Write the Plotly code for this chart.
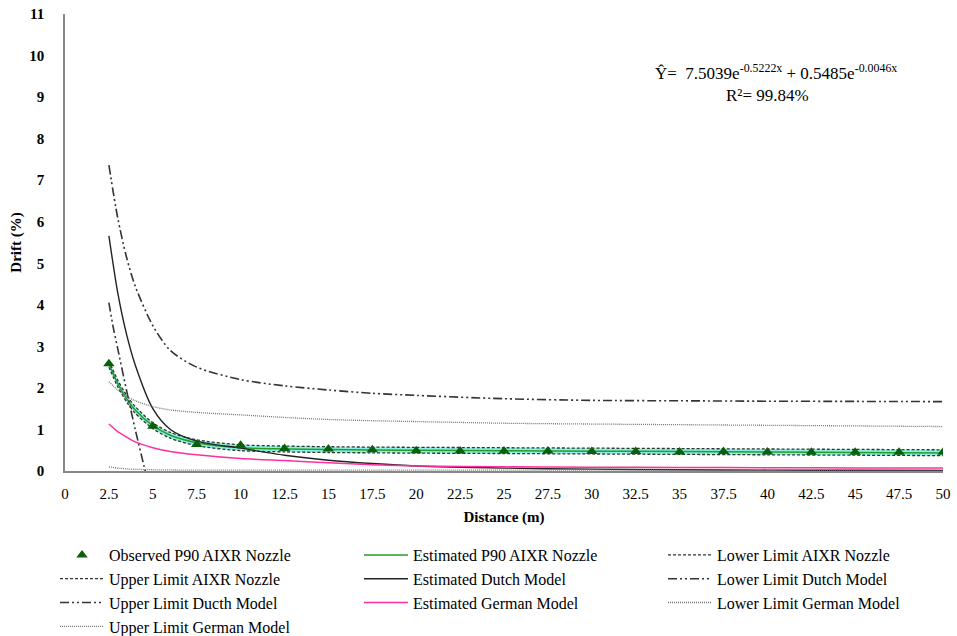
import plotly.graph_objects as go

# Distances (m) for observed drift and sampled curve positions
obs_x = [2.5, 5, 7.5, 10, 12.5, 15, 17.5, 20, 22.5, 25, 27.5, 30, 32.5, 35, 37.5, 40, 42.5, 45, 47.5, 50]
obs_y = [2.58, 1.08, 0.64, 0.62, 0.54, 0.53, 0.51, 0.49, 0.48, 0.48, 0.48, 0.47, 0.47, 0.46, 0.47, 0.46, 0.45, 0.45, 0.45, 0.45]

curve_x = [2.5, 3, 3.5, 4, 5, 6, 7.5, 10, 12.5, 15, 17.5, 20, 25, 30, 35, 40, 45, 50]

est_p90 = [2.58, 2.11, 1.75, 1.47, 1.09, 0.86, 0.68, 0.56, 0.53, 0.515, 0.506, 0.50, 0.489, 0.478, 0.467, 0.456, 0.446, 0.436]
upper_aixr = [2.66, 2.19, 1.83, 1.55, 1.16, 0.93, 0.75, 0.63, 0.60, 0.585, 0.575, 0.57, 0.56, 0.55, 0.54, 0.53, 0.52, 0.51]
lower_aixr = [2.50, 2.03, 1.67, 1.39, 1.02, 0.79, 0.61, 0.49, 0.46, 0.445, 0.437, 0.43, 0.42, 0.41, 0.40, 0.39, 0.38, 0.37]

est_dutch = [5.66, 4.3, 3.3, 2.55, 1.5, 1.0, 0.72, 0.55, 0.38, 0.26, 0.18, 0.12, 0.07, 0.045, 0.03, 0.022, 0.018, 0.015]
upper_dutch = [7.36, 6.1, 5.15, 4.45, 3.5, 2.9, 2.5, 2.2, 2.05, 1.95, 1.87, 1.82, 1.74, 1.70, 1.69, 1.68, 1.675, 1.67]
lower_dutch_x = [2.5, 2.75, 3, 3.5, 4, 4.5, 4.75]
lower_dutch = [4.05, 3.45, 2.95, 1.95, 1.0, 0.12, -0.3]

est_german = [1.13, 0.95, 0.82, 0.70, 0.56, 0.47, 0.39, 0.30, 0.25, 0.20, 0.15, 0.12, 0.10, 0.09, 0.085, 0.08, 0.075, 0.07]
upper_german = [2.15, 1.95, 1.80, 1.69, 1.55, 1.47, 1.41, 1.35, 1.29, 1.24, 1.21, 1.19, 1.15, 1.13, 1.115, 1.10, 1.085, 1.07]
lower_german = [0.10, 0.07, 0.05, 0.04, 0.03, 0.025, 0.02, 0.02, 0.02, 0.02, 0.02, 0.02, 0.02, 0.02, 0.02, 0.02, 0.02, 0.02]

x_ticks = [0, 2.5, 5, 7.5, 10, 12.5, 15, 17.5, 20, 22.5, 25, 27.5, 30, 32.5, 35, 37.5, 40, 42.5, 45, 47.5, 50]
y_ticks = list(range(0, 12))

SERIF = "Liberation Serif, Times New Roman, serif"
DUTCH_DASH = "9px,3px,2px,3px,2px,3px"
AIXR_DASH = "3px,2px"
GERMAN_DOT = "1px,1px"

W, H = 957, 636
L, R, T, B = 65, 14, 14, 165
pw, ph = W - L - R, H - T - B

fig = go.Figure()

# Confidence band of the AIXR fit
fig.add_trace(go.Scatter(x=curve_x, y=lower_aixr, mode="lines", line=dict(width=0, shape="spline"),
                         showlegend=False, hoverinfo="skip"))
fig.add_trace(go.Scatter(x=curve_x, y=upper_aixr, mode="lines", line=dict(width=0, shape="spline"),
                         fill="tonexty", fillcolor="rgba(40,230,200,0.55)", showlegend=False, hoverinfo="skip"))


def line_trace(name, xs, ys, color, dash, rank, width=1.3):
    return go.Scatter(x=xs, y=ys, name=name, mode="lines", legendrank=rank,
                      line=dict(color=color, dash=dash, width=width, shape="spline", smoothing=0.8))


fig.add_trace(line_trace("Estimated P90 AIXR Nozzle", curve_x, est_p90, "#2a9a2a", "solid", 2, 1.5))
fig.add_trace(line_trace("Lower Limit AIXR Nozzle", curve_x, lower_aixr, "#333333", AIXR_DASH, 3))
fig.add_trace(line_trace("Upper Limit AIXR Nozzle", curve_x, upper_aixr, "#333333", AIXR_DASH, 4))
fig.add_trace(line_trace("Estimated Dutch Model", curve_x, est_dutch, "#222222", "solid", 5, 1.4))
fig.add_trace(line_trace("Lower Limit Dutch Model", lower_dutch_x, lower_dutch, "#333333", DUTCH_DASH, 6, 1.6))
fig.add_trace(line_trace("Upper Limit Ducth Model", curve_x, upper_dutch, "#333333", DUTCH_DASH, 7, 1.6))
fig.add_trace(line_trace("Estimated German Model", curve_x, est_german, "#ff2f9f", "solid", 8, 1.5))
fig.add_trace(line_trace("Lower Limit German Model", curve_x, lower_german, "#777777", GERMAN_DOT, 9))
fig.add_trace(line_trace("Upper Limit German Model", curve_x, upper_german, "#777777", GERMAN_DOT, 10))
# Observed points drawn last so they sit above the curves
fig.add_trace(go.Scatter(x=obs_x, y=obs_y, name="Observed P90 AIXR Nozzle", mode="markers", legendrank=1,
                         marker=dict(symbol="triangle-up", size=10, color="#0b5e0b")))


def px_to_paper(px, py):
    return (px - L) / pw, 1 - (py - T) / ph


ex, ey = px_to_paper(653, 72)
fig.add_annotation(
    x=ex, y=ey, xref="paper", yref="paper", showarrow=False,
    text="Ŷ=  7.5039e<sup>-0.5222x</sup> + 0.5485e<sup>-0.0046x</sup>",
    font=dict(family=SERIF, size=17, color="black"), xanchor="left", yanchor="middle",
)
rx, ry = px_to_paper(767, 96)
fig.add_annotation(
    x=rx, y=ry, xref="paper", yref="paper", showarrow=False,
    text="R²= 99.84%",
    font=dict(family=SERIF, size=17, color="black"), xanchor="center", yanchor="middle",
)

leg_x, leg_y = px_to_paper(55, 538)

fig.update_layout(
    width=W, height=H,
    margin=dict(l=L, r=R, t=T, b=B, autoexpand=False),
    paper_bgcolor="white", plot_bgcolor="white",
    font=dict(family=SERIF, size=14, color="black"),
    showlegend=True,
    legend=dict(
        orientation="h", x=leg_x, y=leg_y, xanchor="left", yanchor="top",
        xref="paper", yref="paper",
        entrywidth=245, entrywidthmode="pixels",
        font=dict(family=SERIF, size=16, color="black"),
        itemwidth=44, traceorder="normal",
        bgcolor="rgba(0,0,0,0)",
    ),
    xaxis=dict(
        range=[0, 50], tickvals=x_ticks, ticktext=[f"{v:g}" for v in x_ticks],
        showgrid=False, zeroline=False, showline=True, linecolor="#888888", linewidth=1.5,
        ticks="", ticklabelstandoff=8, tickfont=dict(family=SERIF, size=15),
        title=dict(text="<b>Distance (m)</b>", font=dict(family=SERIF, size=15), standoff=11),
    ),
    yaxis=dict(
        range=[0, 11], tickvals=y_ticks, ticktext=[f"<b>{v}</b>" for v in y_ticks],
        showgrid=False, zeroline=False, showline=True, linecolor="#888888", linewidth=1.5,
        ticks="", ticklabelstandoff=16, tickfont=dict(family=SERIF, size=15),
        title=dict(text="<b>Drift (%)</b>", font=dict(family=SERIF, size=15), standoff=4),
    ),
)

fig.write_html("out.html")
